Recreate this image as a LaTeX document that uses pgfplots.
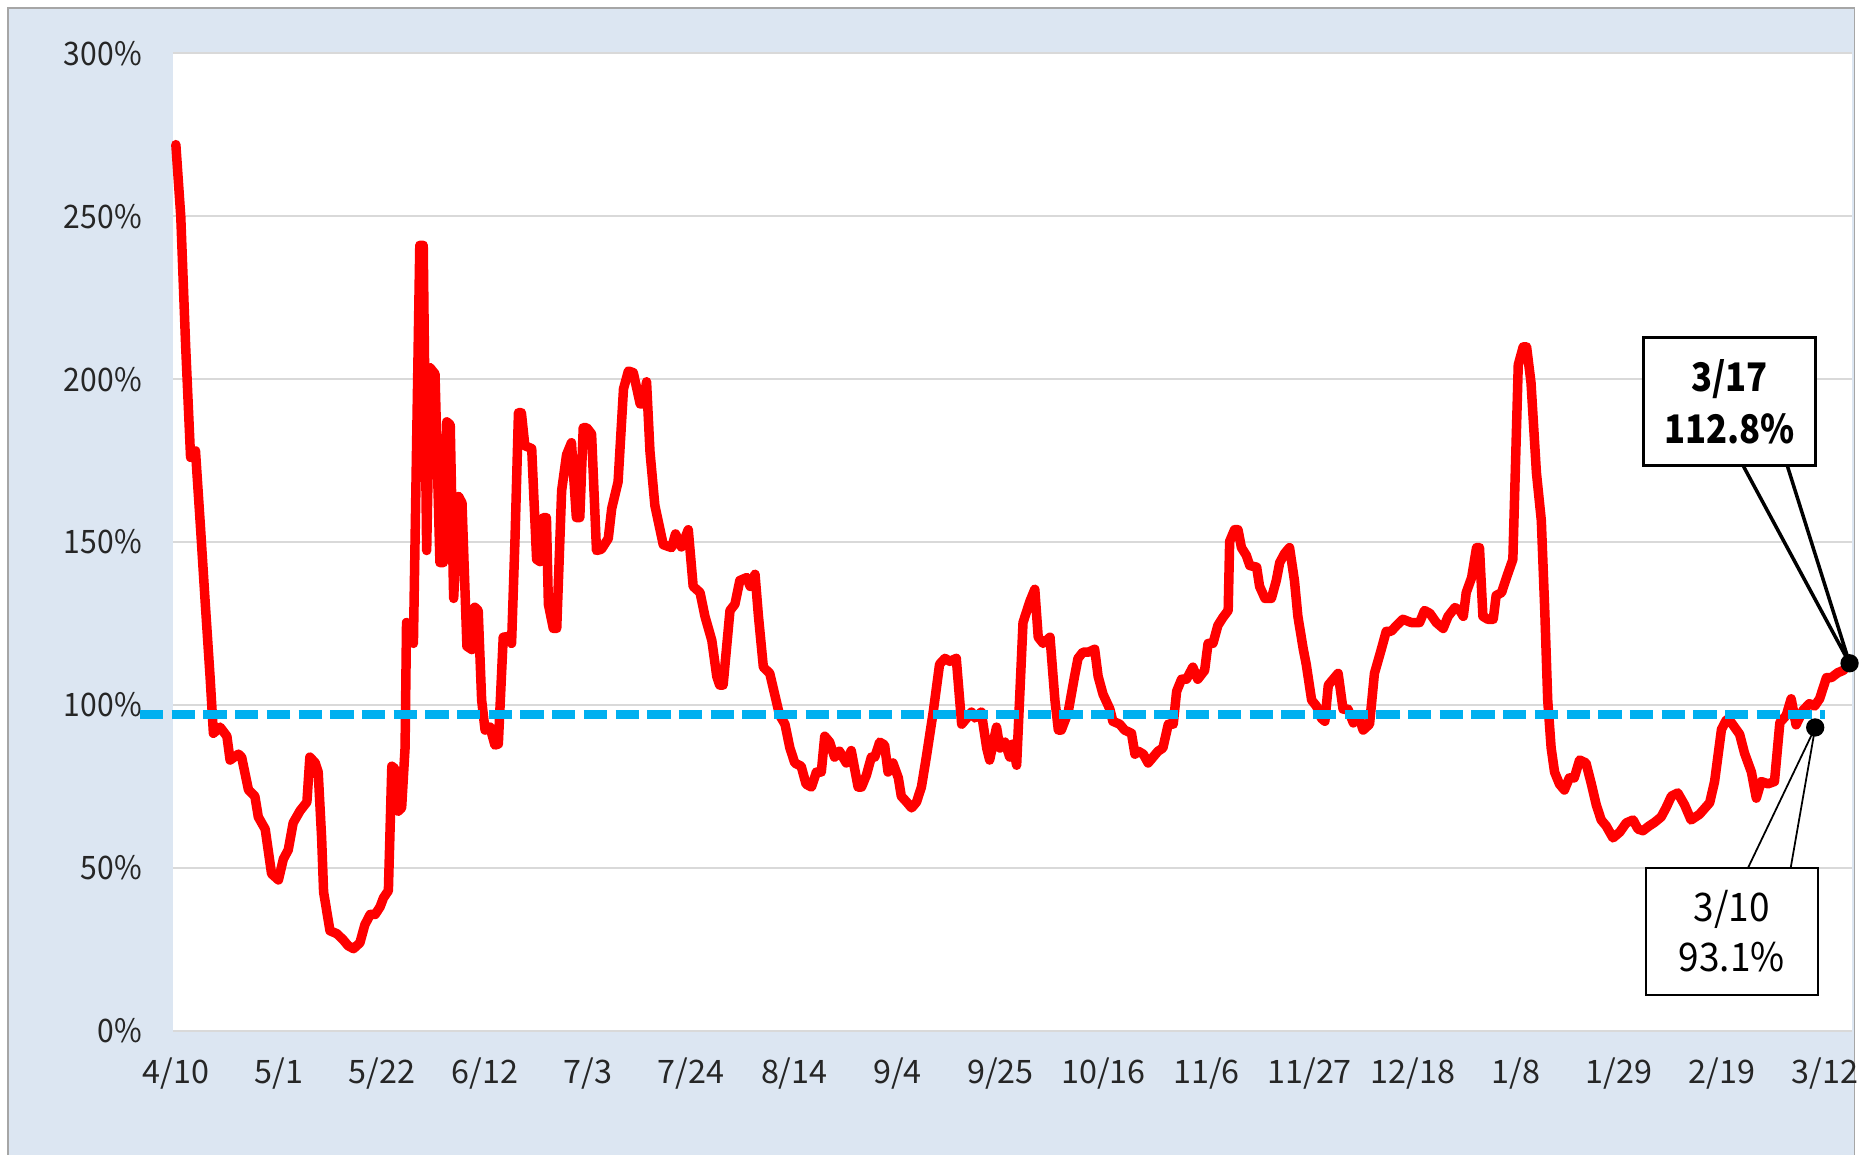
\documentclass[border=0pt]{standalone}
\usepackage{fontspec}
\setmainfont{Noto Sans CJK JP}
\newfontfamily\boxfont{Noto Sans CJK JP}[FakeStretch=0.88]
\newfontfamily\boxfontb{Noto Sans CJK JP}[FakeStretch=0.94]
\newfontfamily\tickfont{Noto Sans CJK JP}[FakeStretch=0.93]
\usepackage{pgfplots}
\usepackage{pgfplotstable}
\pgfplotsset{compat=1.18}
\definecolor{bgblue}{HTML}{DCE6F2}
\definecolor{gridgray}{HTML}{D9D9D9}
\definecolor{dashblue}{HTML}{00B0F0}
\definecolor{borderg}{HTML}{A6A6A6}

\pgfplotstableread{
d v
0 272
1 250
2 210
3 176
4 178
5 155
6 131
7 108
7.65 91.3
9.0 93.2
10.4 90.4
11.05 83.1
12.75 84.9
13.4 84.0
14.8 73.9
16.1 72.0
16.8 65.6
18.2 61.9
19.5 48.2
20.9 46.3
21.9 52.7
22.9 55.5
23.9 63.8
25.3 67.5
26.7 70.2
27.3 84.0
28.4 82.2
29.0 79.4
29.7 59.2
30.1 42.6
31.4 30.7
32.8 29.8
34.1 27.9
35.1 26.1
36.2 25.2
37.5 27.0
38.5 32.5
39.6 35.7
40.6 35.7
41.6 38.0
42.3 40.8
43.3 43.0
44.0 81.2
44.6 80.5
45.3 67.4
46.0 68.4
46.7 86.8
47.0 125.3
47.7 124.4
48.4 118.9
49.7 241.1
50.4 241.1
51.1 147.4
51.8 203.5
52.8 201.6
53.8 143.7
54.5 143.7
55.2 186.9
55.9 186
56.6 132.7
57.6 164
58.3 162
59.3 118
60.3 117
60.9 130
61.6 129
62.3 101.5
63.0 92.3
64.0 93.2
65.0 87.7
65.7 88
66.7 120.8
67.6 121
68.4 118.9
69.1 151
69.8 189.7
70.4 189.7
71.1 179.6
72.5 178.7
73.5 144.7
74.2 144
74.9 157.5
75.5 157.5
75.9 130.9
76.9 123.5
77.6 123.5
78.6 165.8
79.6 176.8
80.6 180.5
81.6 157.5
82.3 157.5
83.0 185.1
83.7 185.1
84.7 183.2
85.7 147.4
86.7 147.8
88.1 151.1
88.8 160.3
90.1 168.5
91.2 197.0
92.2 202.5
93.2 202
94.6 192.4
95.2 192.4
95.9 199.2
96.6 177.7
97.6 161.2
99.3 149.2
101.0 148.3
101.8 152.5
103.0 148.5
104.4 153.8
105.4 136.4
106.8 134.5
107.8 127.2
109.2 119.8
110.2 108.8
110.8 106.1
111.5 106.1
112.9 129.0
113.9 130.9
114.9 138.2
116.3 139.1
117.0 136.4
118.0 140.1
118.7 127.2
119.7 111.6
121.0 109.7
122.0 103.3
123.0 96.9
124.1 94.1
125.1 86.8
126.1 82.2
127.4 81.2
128.4 75.7
129.5 74.8
130.5 79.4
131.5 79.4
132.2 90.4
133.2 88.6
134.2 84.0
135.2 85.8
136.6 82.2
137.6 86
139.0 74.8
139.7 74.8
140.7 78.5
141.7 84.0
142.4 84.0
143.4 88.6
144.4 87.7
145.1 79.4
146.1 82.2
147.2 77.6
147.8 72.0
148.9 70.2
149.9 68.4
150.9 70.2
151.9 74.8
152.9 84.0
154.3 97.8
155.6 112.5
156.7 114.3
157.7 113.4
159.0 114.3
160.1 94.1
161.1 95.9
162.1 97.8
162.8 96
164.1 97.8
165.2 86.8
165.8 83.1
167.2 93.2
167.9 86.8
168.9 88.6
169.9 84
170.5 88
171.3 81.5
172.6 125.3
174.0 131.8
175.0 135.5
175.7 120.8
176.7 118.9
178.1 120.8
179.1 101.5
179.8 92.3
180.4 92.3
181.8 97.8
183.1 108.8
183.8 114.3
184.8 116.2
185.9 116.2
187.2 117.1
187.9 108.8
188.9 103.3
190.3 98.7
190.9 95.0
192.3 94.1
193.3 92.3
194.7 91.3
195.4 84.9
196.1 85.8
197.1 84.9
198.1 82.2
199.1 84.0
200.1 85.8
201.1 86.8
202.2 94.1
203.2 94.1
203.9 104.2
204.9 107.9
205.9 107.9
207.2 111.6
208.2 107.9
209.6 110.6
210.3 118.9
211.3 118.9
212.3 124.4
213.3 126.8
214.4 129.0
214.7 150.2
215.7 153.8
216.4 153.8
217.1 148.3
218.1 145.9
218.8 142.8
220.2 142.3
220.8 136.4
221.9 132.7
223.2 132.7
224.2 138.2
224.9 143.7
225.9 146.5
226.9 148.3
227.9 138.2
228.6 127.2
229.7 117.1
230.3 112.5
231.4 101.5
232.4 99.6
233.4 95.9
234.1 95.0
234.8 106.1
235.8 107.9
236.8 109.7
237.8 98.7
238.8 98.7
239.9 94.5
240.9 96.9
241.9 92.3
243.2 94.1
244.2 109.7
245.6 117.1
246.6 122.6
247.6 122.6
248.7 124.4
250.0 126.3
251.7 125.3
253.4 125.3
254.4 129.0
255.5 128.1
256.8 125.3
258.2 123.5
259.2 127.2
260.6 129.9
261.6 129.0
262.3 127.2
262.9 134.5
264.0 139.1
265.0 148.3
265.6 148.3
266.3 127.2
267.3 126.3
268.4 126.3
269.0 133.6
270.1 134.5
271.1 139.1
272.4 144.7
273.5 204.4
274.5 209.9
275.2 209.9
276.1 198.9
277.2 171.3
278.2 156.6
278.9 129.0
279.5 101.5
280.2 86.8
280.9 79.4
281.9 75.7
282.9 73.9
283.9 77.6
284.9 77.6
286.0 83.1
287.3 82.2
288.4 75.7
289.4 69.3
290.4 64.7
291.4 62.9
292.8 59.2
294.2 61.0
295.5 63.8
296.9 64.7
297.9 61.9
298.9 61.4
300.2 62.9
301.3 64
302.6 65.6
303.6 68.4
304.7 72.0
306.0 73.0
307.4 69.3
308.7 64.7
310.4 66.4
312.5 70.0
313.5 76.5
314.9 92.5
315.9 95.4
316.9 94.6
318.6 91.0
319.6 85.2
321.0 79.4
322.0 71.4
323.0 76.5
324.4 75.8
325.7 76.5
326.8 94.6
328.1 96.8
329.1 101.9
330.1 93.9
331.5 98.3
332.8 100.4
333.9 99.7
334.9 101.9
336.3 108.4
337.3 108.4
338.6 109.9
339.7 110.6
341 112.8
}\ratio

\begin{document}
\begin{tikzpicture}[x=1cm,y=1cm]
\path[use as bounding box] (0,0) rectangle (18.62,11.54);
\fill[white] (0,0) rectangle (18.62,11.54);
\filldraw[fill=bgblue, draw=borderg, line width=0.5pt] (0.08,-0.3) rectangle (18.545,11.46);
\begin{axis}[
  at={(1.734cm,1.2325cm)}, anchor=south west,
  scale only axis, width=16.786cm, height=9.7735cm,
  xmin=-0.5, xmax=341.5, ymin=0, ymax=300,
  axis background/.style={fill=white},
  axis line style={draw=none},
  major tick length=0pt,
  ymajorgrids, grid style={gridgray, line width=0.6pt},
  ytick={0,50,...,300},
  yticklabels={0\%,50\%,100\%,150\%,200\%,250\%,300\%},
  xtick={0,21,...,336},
  xticklabels={4/10,5/1,5/22,6/12,7/3,7/24,8/14,9/4,9/25,10/16,11/6,11/27,12/18,1/8,1/29,2/19,3/12},
  yticklabel style={anchor=east, inner sep=0pt, xshift=-0.31cm, font=\tickfont\fontsize{9.2}{11}\selectfont, text=black!85},
  xticklabel style={anchor=north, inner sep=0pt, yshift=-0.26cm, font=\fontsize{9.2}{11}\selectfont, text=black!85},
  clip=false,
]
\addplot[red, line width=2.7pt, line join=round, line cap=round] table[x=d, y=v] {\ratio};
\addplot[dashblue, line width=2.4pt, dash pattern=on 0.233cm off 0.084cm] coordinates {(-7.3,97.07) (336,97.07)};

\filldraw[fill=white, draw=black, line width=1pt, line join=round] (axis cs:319.3,173.5) -- (axis cs:341,112.8) -- (axis cs:328.3,173.5);
\filldraw[fill=white, draw=black, line width=1pt] (axis cs:299.0,173.5) rectangle (axis cs:334.1,212.8);
\node[font=\boxfont\bfseries\fontsize{11.2}{14.8}\selectfont, align=center] at (axis cs:316.55,193.2) {3/17\\112.8\%};

\filldraw[fill=white, draw=black, line width=0.5pt, line join=round] (axis cs:320.3,49.96) -- (axis cs:334,93.1) -- (axis cs:329.0,49.96);
\filldraw[fill=white, draw=black, line width=0.5pt] (axis cs:299.5,10.97) rectangle (axis cs:334.5,49.96);
\node[font=\boxfontb\fontsize{11.2}{14.2}\selectfont, align=center] at (axis cs:317,30.5) {3/10\\93.1\%};

\addplot[only marks, mark=*, mark size=2.4pt, black] coordinates {(334,93.1) (341,112.8)};
\end{axis}
\end{tikzpicture}
\end{document}
